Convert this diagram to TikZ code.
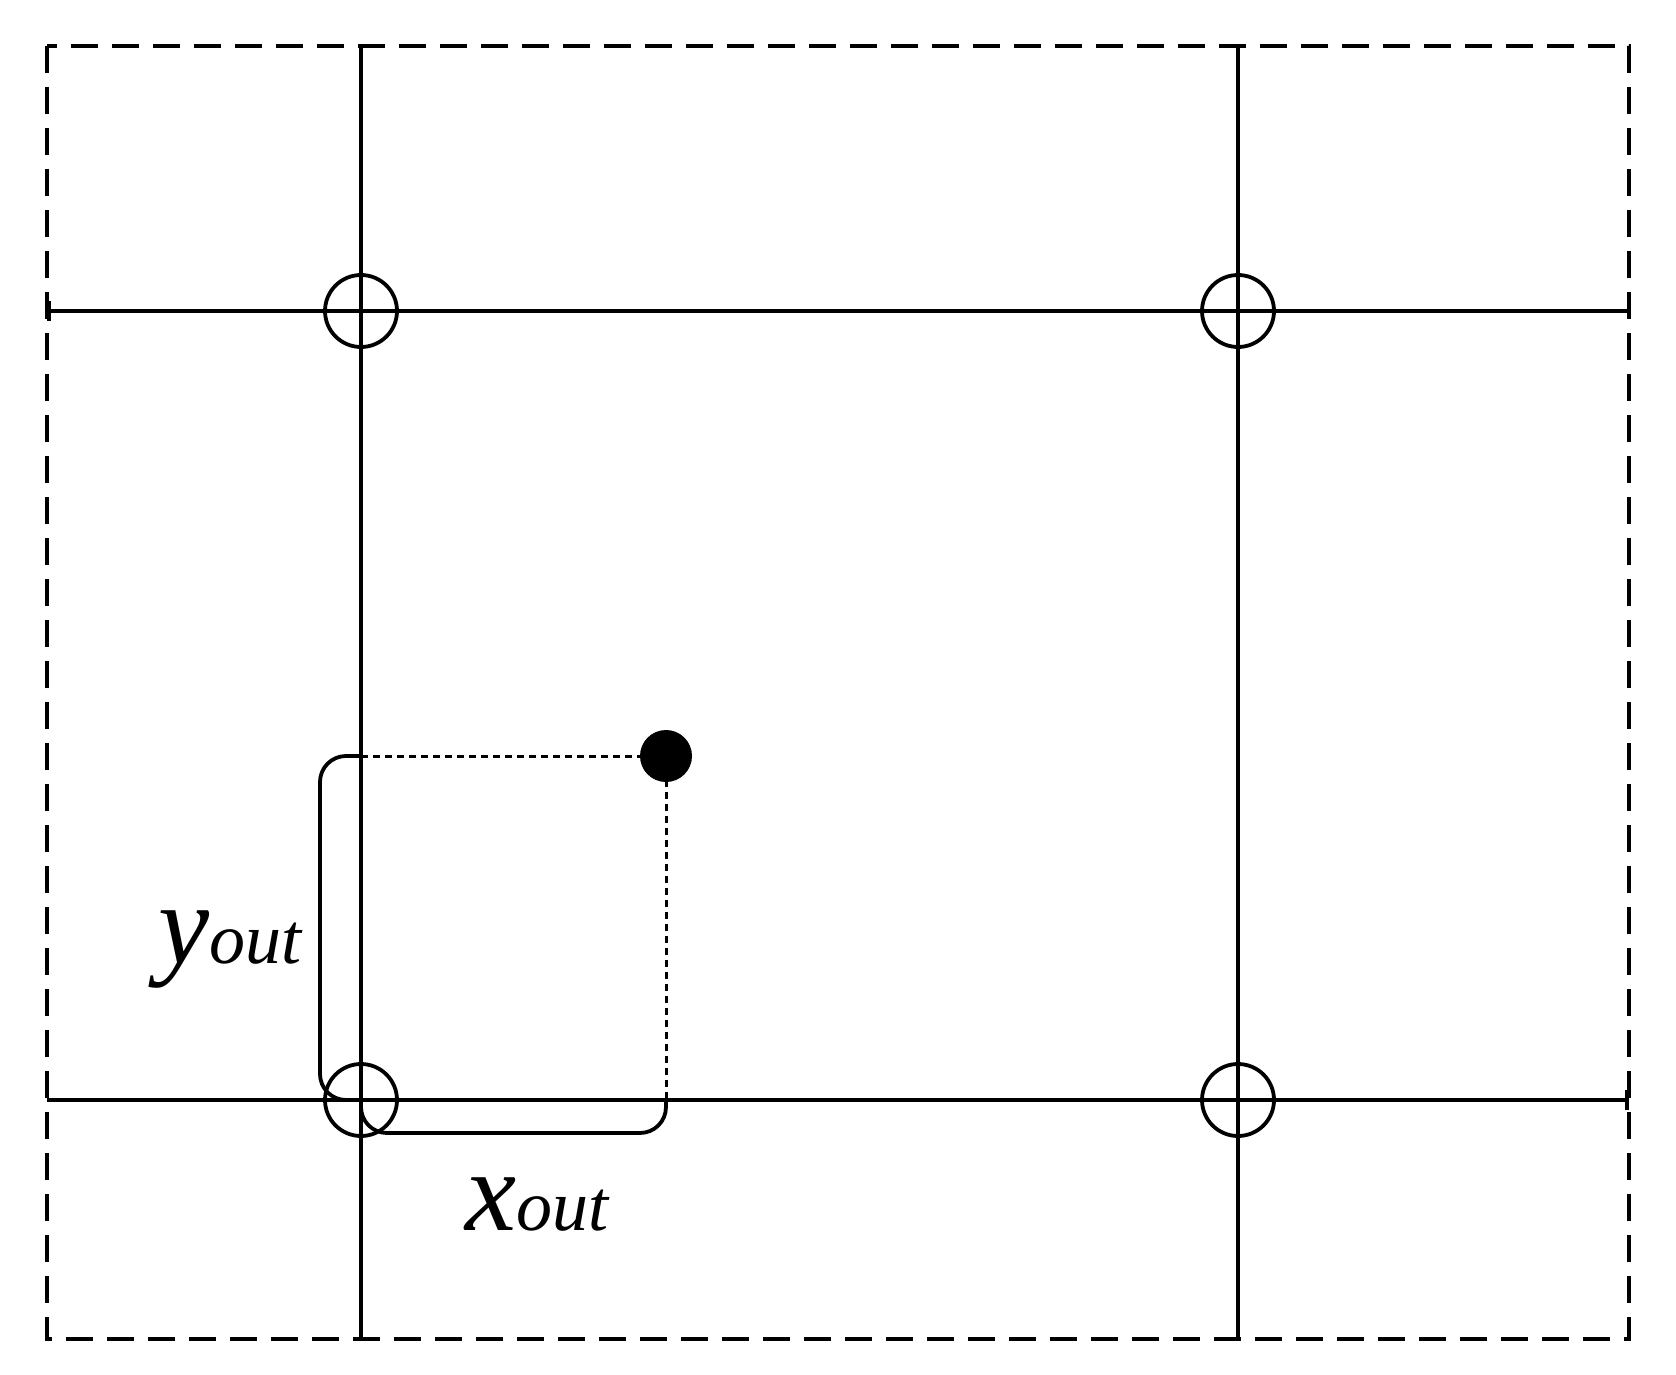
\documentclass[tikz,border=0pt]{standalone}
\usepackage{fontspec}
\setmainfont{Liberation Serif}
\begin{document}
\begin{tikzpicture}[x=1pt,y=-1pt,line width=3.8pt,
  frame/.style={dash pattern=on 27pt off 14pt},
  ring/.style={circle,draw,minimum size=72pt,inner sep=0pt,line width=3.8pt},
  dotted2/.style={line width=3pt,dash pattern=on 7pt off 5pt},
  lbl/.style={font=\fontsize{115}{120}\selectfont\itshape,inner sep=0pt}]
\useasboundingbox (0,0) rectangle (1676,1375);
\draw[frame] (47,46) rectangle (1629,1339);
\coordinate (vt1) at (361,46); \coordinate (vb1) at (361,1339);
\coordinate (vt2) at (1238,46); \coordinate (vb2) at (1238,1339);
\coordinate (hl1) at (47,311); \coordinate (hr1) at (1629,311);
\coordinate (hl2) at (47,1100); \coordinate (hr2) at (1629,1100);
\draw (vt1) -- (vb1); \draw (vt2) -- (vb2);
\draw[|-] (hl1) -- (hr1); \draw[-|] (hl2) -- (hr2);
\node[ring] (c1) at (361,311) {};
\node[ring] (c2) at (1238,311) {};
\node[ring] (c3) at (361,1100) {};
\node[ring] (c4) at (1238,1100) {};
\node[circle,fill,minimum size=52pt,inner sep=0pt] (p) at (666,756) {};
\coordinate (ya) at (361,756);
\coordinate (xa) at (666,1100);
\draw[dotted2] (ya) -- (p.center);
\draw[dotted2] (p.center) -- (xa);
\draw[rounded corners=26pt] (ya) -- (320,756) -- (320,1100) -- (c3.center);
\draw[rounded corners=26pt] (c3.center) -- (361,1133) -- (666,1133) -- (xa);
\node[lbl,anchor=base] (ylab) at (230,963) {y\fontsize{72}{75}\selectfont out};
\node[lbl,anchor=base] (xlab) at (537,1230) {x\fontsize{72}{75}\selectfont out};
\end{tikzpicture}
\end{document}
